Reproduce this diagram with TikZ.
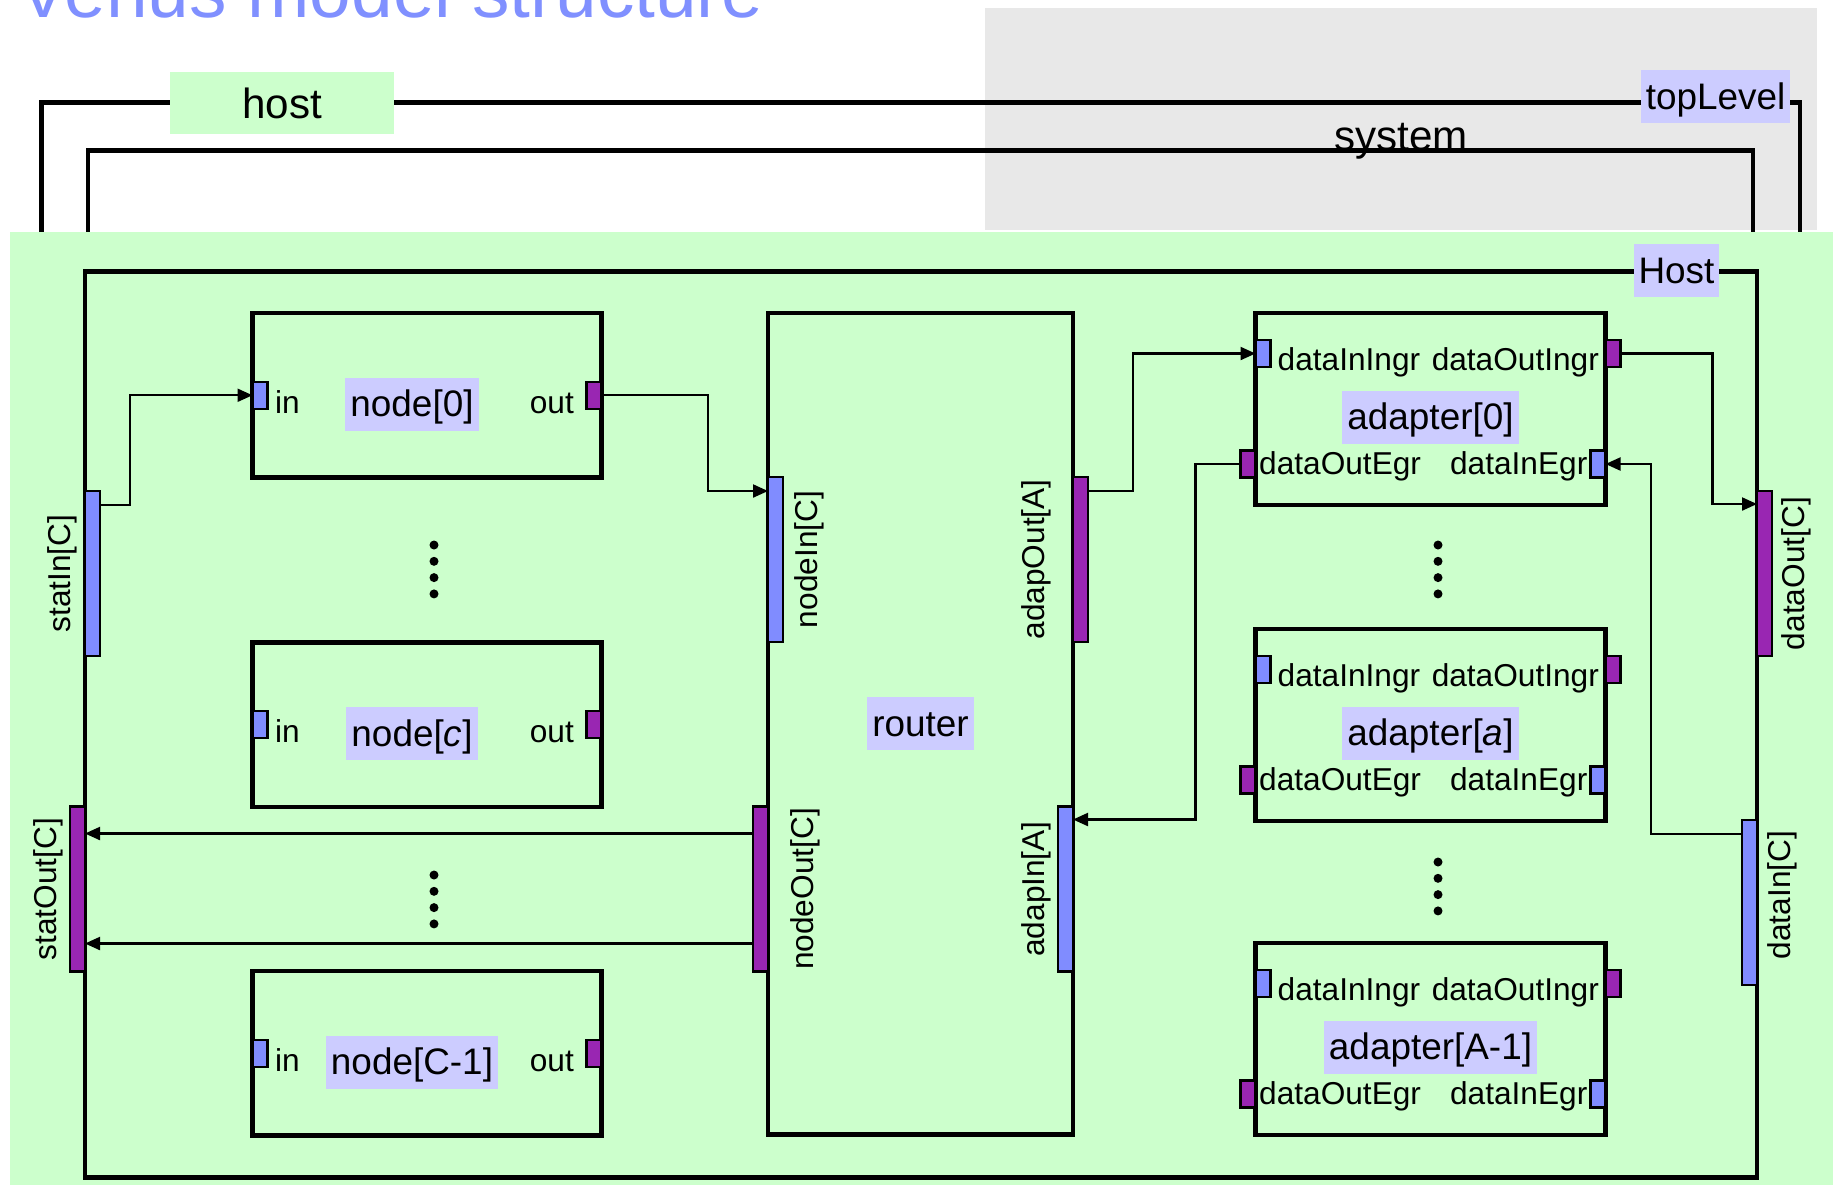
\documentclass[tikz,border=0pt]{standalone}
\usepackage{fontspec}
\setmainfont{Liberation Sans}
\usepackage{xcolor}
\usetikzlibrary{arrows.meta, positioning, calc}

\definecolor{hostgreen}{RGB}{204,255,204}
\definecolor{lavender}{RGB}{204,204,255}
\definecolor{portblue}{RGB}{128,140,255}
\definecolor{portpurple}{RGB}{153,38,178}
\definecolor{graybg}{RGB}{232,232,232}
\definecolor{titleblue}{RGB}{128,144,255}

\begin{document}
\begin{tikzpicture}[
    box/.style={draw, line width=1.3pt, inner sep=0pt, outer sep=0pt},
    frame/.style={line width=1.4pt},
    biglbl/.style={font=\fontsize{12}{14}\selectfont},
    tag/.style={fill=lavender, inner xsep=0.05cm, inner ysep=0pt, text height=0.39cm, text depth=0.14cm, font=\fontsize{10.5}{12}\selectfont},
    inport/.style={draw, line width=0.6pt, fill=portblue, inner sep=0pt, outer sep=0pt, minimum width=0.15cm, minimum height=#1},
    inport/.default=0.27cm,
    outport/.style={draw, line width=0.6pt, fill=portpurple, inner sep=0pt, outer sep=0pt, minimum width=0.15cm, minimum height=#1},
    outport/.default=0.27cm,
    plab/.style={font=\fontsize{9}{10}\selectfont, inner sep=0pt},
    wire/.style={line width=0.6pt, -{Triangle[length=0.15cm, width=0.13cm]}}
]
    \useasboundingbox (0,0) rectangle (18.33,-11.85);

    % Title
    \node[anchor=base west, inner sep=0pt, text=titleblue, font=\fontsize{21.3}{24}\selectfont] (title) at (0.18,-0.17) {Venus model structure};

    % System area and outer frames
    \fill[graybg] (9.85,-0.08) rectangle (18.17,-2.30);
    \draw[frame] (0.415,-2.32) |- (18.00,-1.025) -- (18.00,-2.32);
    \draw[frame] (0.88,-2.32) |- (17.53,-1.505) -- (17.53,-2.32);
    \node[fill=hostgreen, minimum width=2.24cm, minimum height=0.62cm, biglbl] (hostLbl) at (2.82,-1.03) {host};
    \node[tag] (topLbl) at (17.155,-0.965) {topLevel};
    \node[anchor=base, biglbl] (sysLbl) at (14.01,-1.505) {system};

    % Host
    \fill[hostgreen] (0.10,-2.32) rectangle (18.33,-11.85);
    \node[box, minimum width=16.72cm, minimum height=9.06cm] (host) at (9.21,-7.245) {};
    \node[tag] (hostTag) at (16.765,-2.705) {Host};

    % Host ports
    \node[inport=1.65cm, anchor=west] (statIn) at (0.85,-5.735) {};
    \node[outport=1.65cm, anchor=east] (statOut) at (0.85,-8.89) {};
    \node[outport=1.65cm, anchor=west] (dataOut) at (17.57,-5.735) {};
    \node[inport=1.65cm, anchor=east] (dataIn) at (17.57,-9.025) {};
    \node[plab, rotate=90] at ([xshift=-0.305cm]statIn.center) {statIn[C]};
    \node[plab, rotate=90] at ([xshift=-0.29cm]statOut.center) {statOut[C]};
    \node[plab, rotate=90] at ([xshift=0.315cm]dataOut.center) {dataOut[C]};
    \node[plab, rotate=90] at ([shift={(0.325,0.075)}]dataIn.center) {dataIn[C]};

    % Nodes
    \foreach \i/\y/\txt in {0/-3.9525/{node[0]}, c/-7.2475/{node[\textit{c}]}, C1/-10.5325/{node[C-1]}} {
        \node[box, minimum width=3.49cm, minimum height=1.645cm] (node\i) at (4.27,\y) {};
        \node[tag] at ([shift={(-0.15,-0.09)}]node\i.center) {\txt};
        \node[inport, anchor=west] (n\i-in) at (node\i.west) {};
        \node[outport, anchor=east] (n\i-out) at (node\i.east) {};
        \node[plab, anchor=base west] at ([shift={(0.22,-0.18)}]node\i.west) {in};
        \node[plab, anchor=base east] at ([shift={(-0.27,-0.18)}]node\i.east) {out};
    }

    % Router
    \node[box, minimum width=3.05cm, minimum height=8.215cm] (router) at (9.205,-7.2375) {};
    \node[tag] at (router.center) {router};
    \node[inport=1.65cm, anchor=west] (nodeIn) at (7.68,-5.595) {};
    \node[outport=1.65cm, anchor=east] (nodeOut) at (7.68,-8.89) {};
    \node[outport=1.65cm, anchor=west] (adapOut) at (10.73,-5.595) {};
    \node[inport=1.65cm, anchor=east] (adapIn) at (10.73,-8.89) {};
    \node[plab, rotate=90] at ([xshift=0.335cm]nodeIn.center) {nodeIn[C]};
    \node[plab, rotate=90] at ([xshift=0.45cm]nodeOut.center) {nodeOut[C]};
    \node[plab, rotate=90] at ([xshift=-0.44cm]adapOut.center) {adapOut[A]};
    \node[plab, rotate=90] at ([xshift=-0.29cm]adapIn.center) {adapIn[A]};

    % Adapters
    \foreach \i/\y/\txt in {0/-4.09/{adapter[0]}, a/-7.25/{adapter[\textit{a}]}, A1/-10.39/{adapter[A-1]}} {
        \node[box, minimum width=3.50cm, minimum height=1.92cm] (adapter\i) at (14.305,\y) {};
        \node[tag] at ([yshift=-0.08cm]adapter\i.center) {\txt};
        \node[inport, anchor=west] (a\i-inI) at ([yshift=0.555cm]adapter\i.west) {};
        \node[outport, anchor=west] (a\i-outI) at ([yshift=0.555cm]adapter\i.east) {};
        \node[outport, anchor=east] (a\i-outE) at ([yshift=-0.55cm]adapter\i.west) {};
        \node[inport, anchor=east] (a\i-inE) at ([yshift=-0.55cm]adapter\i.east) {};
        \node[plab, anchor=base west] at ([shift={(0.215,0.39)}]adapter\i.west) {dataInIngr};
        \node[plab, anchor=base east] at ([shift={(-0.06,0.39)}]adapter\i.east) {dataOutIngr};
        \node[plab, anchor=base west] at ([shift={(0.03,-0.65)}]adapter\i.west) {dataOutEgr};
        \node[plab, anchor=base east] at ([shift={(-0.175,-0.65)}]adapter\i.east) {dataInEgr};
    }

    % Dots
    \foreach \x/\y in {4.34/-5.45, 4.34/-8.75, 14.38/-5.45, 14.38/-8.62}
        \foreach \k in {0,1,2,3}
            \fill (\x,{\y-0.163*\k}) circle (0.045);

    % Connectors
    \draw[wire] ([yshift=-0.14cm]statIn.north east) -- ++(0.30,0) |- (n0-in.west);
    \draw[wire] (n0-out.east) -- ++(1.065,0) |- ([yshift=-0.14cm]nodeIn.north west);
    \draw[wire] ([yshift=-0.27cm]nodeOut.north west) -- ([yshift=-0.27cm]statOut.north east);
    \draw[wire] ([yshift=0.28cm]nodeOut.south west) -- ([yshift=0.28cm]statOut.south east);
    \draw[wire] ([yshift=-0.14cm]adapOut.north east) -- ++(0.45,0) |- (a0-inI.west);
    \draw[wire] (a0-outE.west) -- ++(-0.45,0) |- ([yshift=-0.13cm]adapIn.north east);
    \draw[wire] (a0-outI.east) -- ++(0.92,0) |- ([yshift=-0.13cm]dataOut.north west);
    \draw[wire] ([yshift=-0.14cm]dataIn.north west) -- ++(-0.91,0) |- (a0-inE.east);
\end{tikzpicture}
\end{document}
